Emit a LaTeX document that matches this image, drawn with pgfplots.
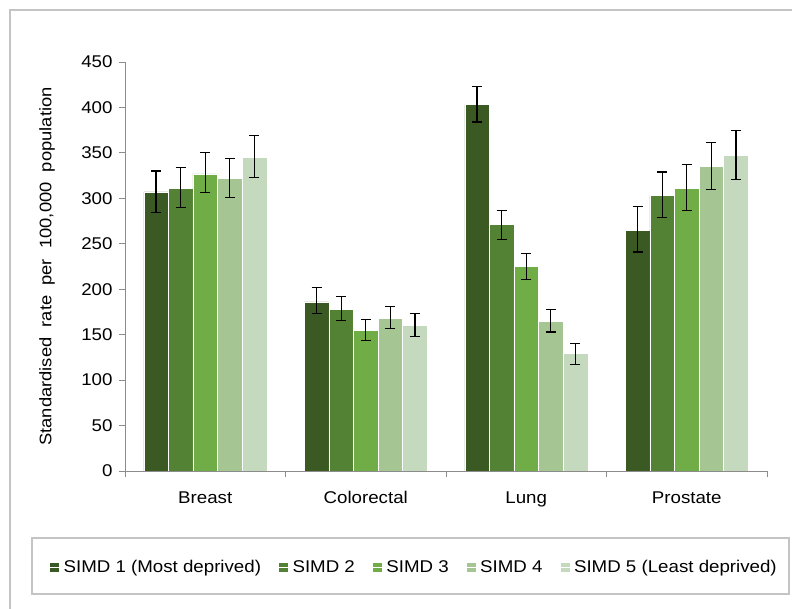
\documentclass[border=0pt]{standalone}
\usepackage{fontspec}
\setmainfont{Liberation Sans}[FakeStretch=1.1]
\usepackage{pgfplots}
\usepackage{pgfplotstable}
\pgfplotsset{compat=1.18}
\definecolor{cA}{HTML}{3B5A23}
\definecolor{cB}{HTML}{548235}
\definecolor{cC}{HTML}{70AD47}
\definecolor{cD}{HTML}{A5C693}
\definecolor{cE}{HTML}{C5D9BE}
\definecolor{axgray}{HTML}{8C8C8C}
\definecolor{frgray}{HTML}{C4C4C4}
% x: 0 Breast, 1 Colorectal, 2 Lung, 3 Prostate
\pgfplotstableread{
x y ep em
0 307 23 23
1 186 16 13
2 403 20 19
3 265 26 24
}\simdA
\pgfplotstableread{
x y ep em
0 311 23 21
1 178 14 12
2 271 16 16
3 303 26 24
}\simdB
\pgfplotstableread{
x y ep em
0 327 23 21
1 155 12 11
2 225 14 14
3 311 26 24
}\simdC
\pgfplotstableread{
x y ep em
0 322 22 21
1 168 13 11
2 165 13 12
3 335 26 25
}\simdD
\pgfplotstableread{
x y ep em
0 345 24 22
1 160 13 12
2 129 11 12
3 347 28 26
}\simdE
\begin{document}
\begin{tikzpicture}[font=\fontsize{17}{20}\selectfont]
\draw[frgray, line width=1.2pt] (10pt,-30pt) -- (10pt,599pt) -- (830pt,599pt);
\draw[frgray, line width=1.2pt] (32pt,15pt) rectangle (789pt,71pt);
\begin{axis}[
  at={(125pt,138pt)}, anchor=south west,
  scale only axis, width=642pt, height=409pt,
  ybar=0pt, bar width=24.6pt,
  xmin=-0.5, xmax=3.5, ymin=0, ymax=450,
  axis x line*=bottom, axis y line*=left,
  axis line style={axgray, line width=0.9pt, -},
  xtick={0,1,2,3},
  xticklabels={Breast,Colorectal,Lung,Prostate},
  minor xtick={-0.5,0.5,1.5,2.5,3.5},
  major x tick style={draw=none},
  minor x tick style={axgray, line width=0.9pt},
  minor tick length=6pt,
  ytick={0,50,...,450},
  y tick style={axgray, line width=0.9pt},
  major tick length=6pt,
  tick align=outside,
  /pgf/number format/assume math mode=true,
  tick label style={font=\fontsize{17}{20}\selectfont, text=black},
  yticklabel style={xshift=-3pt},
  xticklabel style={yshift=-11pt},
  ylabel={Standardised\ \ rate\ \ per\ \ 100,000\ \ population},
  ylabel style={at={(axis description cs:-0.1215,0.5)}, anchor=center, font=\fontsize{16.7}{20}\selectfont},
  error bars/error bar style={black, line width=1.2pt},
  error bars/error mark options={black, rotate=90, mark size=5pt, line width=1.2pt},
  legend columns=5,
  legend style={at={(axis description cs:-0.117,-0.235)}, anchor=west, draw=none, fill=none,
    font=\fontsize{17}{20}\selectfont, inner sep=0pt,
    /tikz/every even column/.append style={column sep=16pt}},
  legend image code/.code={\fill[#1, draw=none] (0pt,-4.5pt) rectangle (9pt,4.5pt); \path (0pt,0pt) -- (11pt,0pt);},
  legend cell align=left,
]
\addplot[fill=cA, draw=white, line width=0.5pt, error bars/.cd, y dir=both, y explicit]
  table[x=x, y=y, y error plus=ep, y error minus=em]{\simdA};
\addplot[fill=cB, draw=white, line width=0.5pt, error bars/.cd, y dir=both, y explicit]
  table[x=x, y=y, y error plus=ep, y error minus=em]{\simdB};
\addplot[fill=cC, draw=white, line width=0.5pt, error bars/.cd, y dir=both, y explicit]
  table[x=x, y=y, y error plus=ep, y error minus=em]{\simdC};
\addplot[fill=cD, draw=white, line width=0.5pt, error bars/.cd, y dir=both, y explicit]
  table[x=x, y=y, y error plus=ep, y error minus=em]{\simdD};
\addplot[fill=cE, draw=white, line width=0.5pt, error bars/.cd, y dir=both, y explicit]
  table[x=x, y=y, y error plus=ep, y error minus=em]{\simdE};
\legend{SIMD 1 (Most deprived), SIMD 2, SIMD 3, SIMD 4, SIMD 5 (Least deprived)}
\end{axis}
\pgfresetboundingbox
\path[use as bounding box] (0,0) rectangle (792pt,609pt);
\end{tikzpicture}
\end{document}
